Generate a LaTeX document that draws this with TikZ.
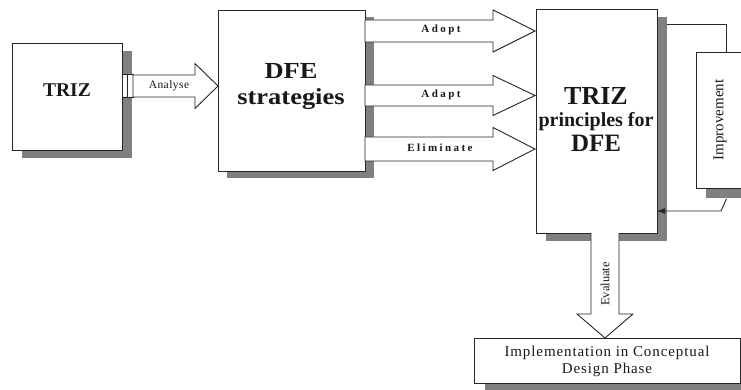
\documentclass[tikz,border=0pt]{standalone}
\usepackage{fontspec}
\setmainfont{Liberation Serif}
\newfontfamily\spacedfont[LetterSpace=22]{Liberation Serif}
\newfontfamily\widefont[FakeStretch=1.15]{Liberation Serif}
\newfontfamily\implfont[LetterSpace=6]{Liberation Serif}
\usetikzlibrary{calc,arrows.meta}
\newcommand\blockarrow[6]{% x0, xh, x1, yc, shaft half, head half
  \draw[barrow] (#1,#4-#5) -- (#2,#4-#5) -- (#2,#4-#6) -- (#3,#4) -- (#2,#4+#6) -- (#2,#4+#5) -- (#1,#4+#5) -- cycle;}
\begin{document}
\begin{tikzpicture}[x=1pt,y=-1pt,
  box/.style={draw=black!85,fill=white,line width=0.9pt,anchor=north west,inner sep=0pt},
  shade/.style={fill=black!50,draw=none},
  barrow/.style={draw=black!85,fill=white,line width=0.9pt,line join=miter},
  txt/.style={inner sep=0pt,align=center,text=black!90},
  fb/.style={draw=black!85,line width=0.9pt}]
\useasboundingbox (0,0) rectangle (741,390);

% shadows first
\fill[shade] (22,51) rectangle (132,158);
\fill[shade] (227,17) rectangle (374,178);
\fill[shade] (546,17) rectangle (667,241);
\fill[shade] (706,62) rectangle (750,198);
\fill[shade] (485,345) rectangle (751,392);

% boxes
\node[box,minimum width=110pt,minimum height=107pt] (triz) at (12,43) {};
\node[box,minimum width=147pt,minimum height=161pt] (dfe) at (218,10) {};
\node[box,minimum width=121pt,minimum height=224pt] (tp) at (536,9) {};
\node[box,minimum width=60pt,minimum height=136pt] (imp) at (696,52) {};
\node[box,minimum width=266pt,minimum height=45pt] (impl) at (474,338) {};

% texts
\node[txt,font=\fontsize{19.5}{20}\selectfont\bfseries] (trizt) at (67,90) {TRIZ};
\node[txt,anchor=base,font=\widefont\fontsize{23}{27}\selectfont\bfseries] (dfet1) at (291,79) {DFE};
\node[txt,anchor=base,font=\widefont\fontsize{23}{27}\selectfont\bfseries] (dfet2) at (291,105) {strategies};
\node[txt,anchor=base,font=\fontsize{26}{26}\selectfont\bfseries] (tpt1) at (596,105) {TRIZ};
\node[txt,anchor=base,font=\fontsize{20}{20}\selectfont\bfseries] (tpt2) at (596,127) {principles for};
\node[txt,anchor=base,font=\fontsize{25}{25}\selectfont\bfseries] (tpt3) at (596,152) {DFE};
\node[txt,rotate=90,font=\fontsize{15}{15}\selectfont] (impt) at (720,120) {Improvement};
\node[txt,font=\implfont\fontsize{15}{17}\selectfont] (implt) at (607,361) {Implementation in Conceptual\\Design Phase};

% Analyse arrow
\draw[barrow] (122,74) rectangle (133,97);
\draw[fb] (127,74) -- (127,97);
\blockarrow{133}{195}{218}{86}{11}{22.5}
\node[txt,font=\fontsize{11.5}{12}\selectfont\addfontfeatures{LetterSpace=4}] (analyse) at (169,86) {Analyse};

% strategy arrows
\blockarrow{365}{493}{535}{31}{11}{21}
\blockarrow{365}{493}{535}{95.5}{10.5}{20}
\blockarrow{365}{493}{535}{149}{12}{21.5}
\node[txt,font=\spacedfont\fontsize{11}{11}\selectfont\bfseries] (adopt) at (441,30) {Adopt};
\node[txt,font=\spacedfont\fontsize{11}{11}\selectfont\bfseries] (adapt) at (441,95) {Adapt};
\node[txt,font=\spacedfont\fontsize{11}{11}\selectfont\bfseries] (elim) at (440,148) {Eliminate};

% Evaluate arrow
\draw[barrow] (591,233) -- (591,314) -- (577,314) -- (605,338) -- (633,314) -- (619,314) -- (619,233);
\node[txt,rotate=90,font=\fontsize{12.5}{12}\selectfont] (evalt) at (605,284) {Evaluate};

% feedback loop
\draw[fb] (667,24) -| (imp.north);
\draw[fb,-{Latex[length=8pt,width=6pt]}] (imp.south) ++(0,10) -- (721,211) -- (657,211);
\end{tikzpicture}
\end{document}
